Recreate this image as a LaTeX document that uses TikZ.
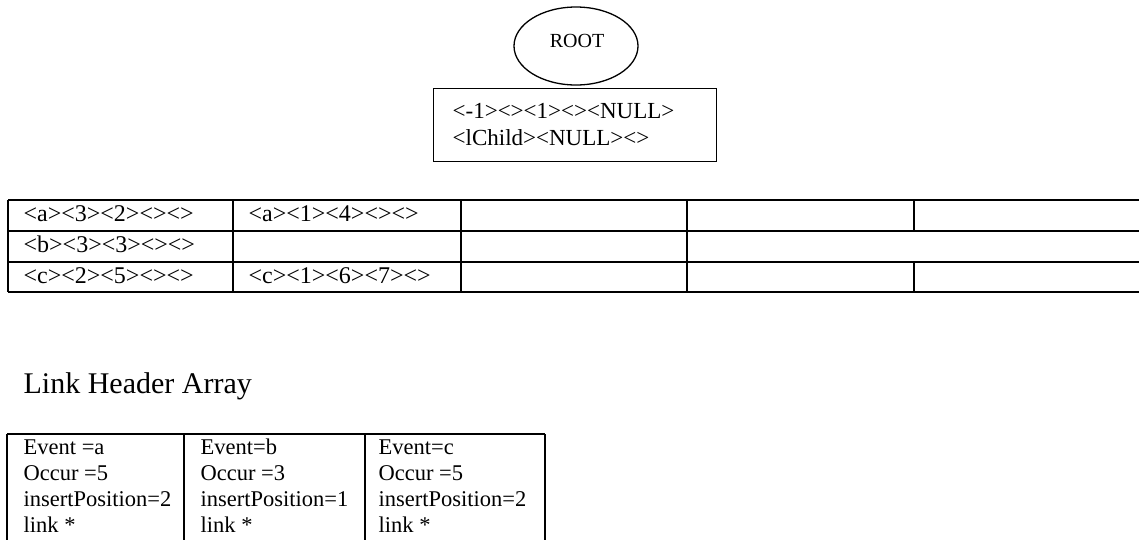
\documentclass[tikz,border=0pt]{standalone}
\usepackage{fontspec}
\setmainfont{Liberation Serif}
\usetikzlibrary{shapes.geometric}
\begin{document}
\begin{tikzpicture}[x=1pt,y=-1pt,line width=1.3pt,
  rule/.style={line width=1.3pt,draw=black},
  celltxt/.style={anchor=base west,inner sep=0pt,font=\fontsize{24}{28}\selectfont},
  boxtxt/.style={anchor=base west,inner sep=0pt,font=\fontsize{23}{27}\selectfont},
  hdrtxt/.style={anchor=base west,inner sep=0pt,font=\fontsize{22.5}{26}\selectfont},
  titletxt/.style={anchor=base west,inner sep=0pt,font=\fontsize{30}{34}\selectfont}]
\useasboundingbox (0,0) rectangle (1139,539);

% ROOT ellipse and its record box
\node[ellipse,draw,line width=1.3pt,minimum width=124pt,minimum height=78pt,inner sep=0pt] (root) at (576,46) {};
\node[font=\fontsize{20}{24}\selectfont,inner sep=0pt] (rootlabel) at (577,41) {ROOT};
\node[draw,line width=1.3pt,rectangle,anchor=north west,minimum width=283pt,minimum height=73pt,inner sep=0pt] (rootbox) at (433,88) {};
\node[boxtxt] (rb1) at (452,118) {<-1><><1><><NULL>};
\node[boxtxt] (rb2) at (452,145) {<lChild><NULL><>};

% upper table grid
\draw[rule] (8,200) -- (1139,200);
\draw[rule] (8,231) -- (1139,231);
\draw[rule] (8,262) -- (1139,262);
\draw[rule] (8,292) -- (1139,292);
\draw[rule] (8,200) -- (8,292);
\draw[rule] (233,200) -- (233,292);
\draw[rule] (461,200) -- (461,292);
\draw[rule] (687,200) -- (687,292);
\draw[rule] (914,200) -- (914,231);
\draw[rule] (914,262) -- (914,292);

% upper table texts
\node[celltxt] (t11) at (23,221) {<a><3><2><><>};
\node[celltxt] (t12) at (248,221) {<a><1><4><><>};
\node[celltxt] (t21) at (23,252) {<b><3><3><><>};
\node[celltxt] (t31) at (23,283) {<c><2><5><><>};
\node[celltxt] (t32) at (248,283) {<c><1><6><7><>};

% title
\node[titletxt] (title) at (23,393) {Link Header Array};

% lower table grid (cut off at the bottom)
\draw[rule] (7,434) -- (545,434);
\draw[rule] (7,434) -- (7,545);
\draw[rule] (184,434) -- (184,545);
\draw[rule] (365,434) -- (365,545);
\draw[rule] (545,434) -- (545,545);

% lower table texts
\node[hdrtxt] (a1) at (23,454) {Event =a};
\node[hdrtxt] (a2) at (23,480) {Occur =5};
\node[hdrtxt] (a3) at (23,506) {insertPosition=2};
\node[hdrtxt] (a4) at (23,532) {link *};
\node[hdrtxt] (b1) at (200,454) {Event=b};
\node[hdrtxt] (b2) at (200,480) {Occur =3};
\node[hdrtxt] (b3) at (200,506) {insertPosition=1};
\node[hdrtxt] (b4) at (200,532) {link *};
\node[hdrtxt] (c1) at (378,454) {Event=c};
\node[hdrtxt] (c2) at (378,480) {Occur =5};
\node[hdrtxt] (c3) at (378,506) {insertPosition=2};
\node[hdrtxt] (c4) at (378,532) {link *};
\end{tikzpicture}
\end{document}
